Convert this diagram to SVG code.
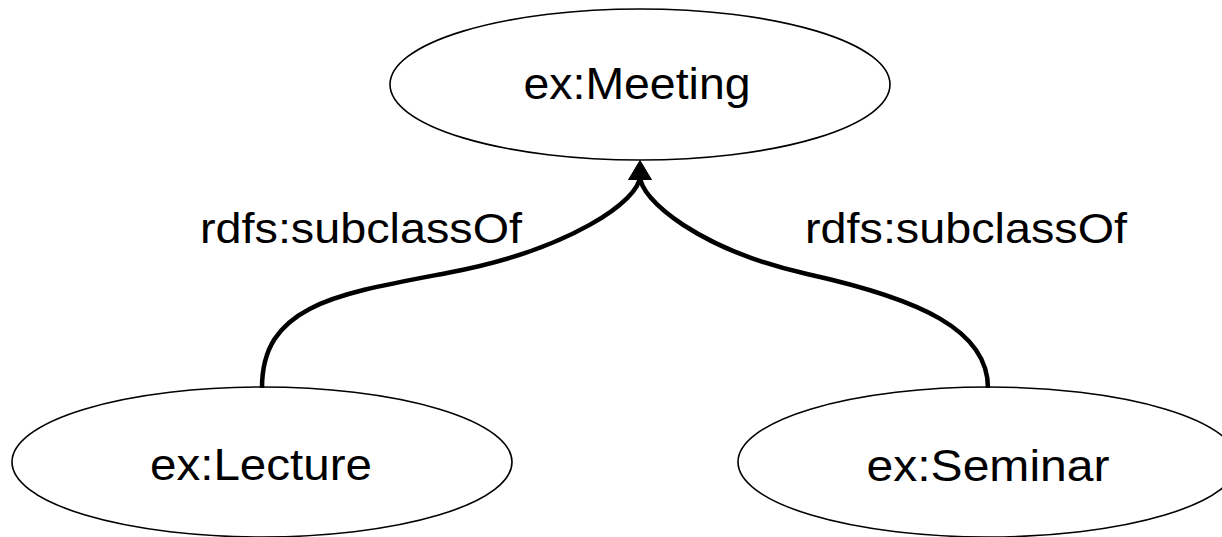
<svg xmlns="http://www.w3.org/2000/svg" width="1222" height="537" viewBox="0 0 1222 537">
  <style>
    .node ellipse { fill: #ffffff; stroke: #000000; stroke-width: 1.6; }
    .label { font-family: "Liberation Sans", Arial, sans-serif; fill: #000000; text-anchor: middle; }
    .nlabel { font-size: 44px; }
    .elabel { font-size: 42px; }
    .edge { fill: none; stroke: #000000; stroke-width: 4.5; marker-end: url(#arrow); }
  </style>
  <defs>
    <marker id="arrow" markerUnits="userSpaceOnUse" viewBox="0 0 20 24" markerWidth="20" markerHeight="24" refX="4" refY="12" orient="auto">
      <path d="M0,0 L20,12 L0,24 z" fill="#000000"/>
    </marker>
  </defs>
  <rect width="1222" height="537" fill="#ffffff"/>
  <g id="node-meeting" class="node">
    <ellipse cx="640" cy="84.5" rx="250" ry="75.5"/>
    <text class="label nlabel" x="637" y="99" textLength="227" lengthAdjust="spacingAndGlyphs">ex:Meeting</text>
  </g>
  <g id="node-lecture" class="node">
    <ellipse cx="262" cy="462" rx="250" ry="75"/>
    <text class="label nlabel" x="261" y="480" textLength="222" lengthAdjust="spacingAndGlyphs">ex:Lecture</text>
  </g>
  <g id="node-seminar" class="node">
    <ellipse cx="988" cy="462" rx="250" ry="75"/>
    <text class="label nlabel" x="988" y="481" textLength="243" lengthAdjust="spacingAndGlyphs">ex:Seminar</text>
  </g>
  <g id="connectors">
    <path class="edge" d="M262,388 C262,305 336,294 447,273 C570,250 640,200 640,176"/>
    <path class="edge" d="M988,388 C988,330 920,299 807,274 C700,250 640,200 640,176"/>
    <text class="label elabel" x="361" y="243" textLength="322" lengthAdjust="spacingAndGlyphs">rdfs:subclassOf</text>
    <text class="label elabel" x="966" y="243" textLength="322" lengthAdjust="spacingAndGlyphs">rdfs:subclassOf</text>
  </g>
</svg>
